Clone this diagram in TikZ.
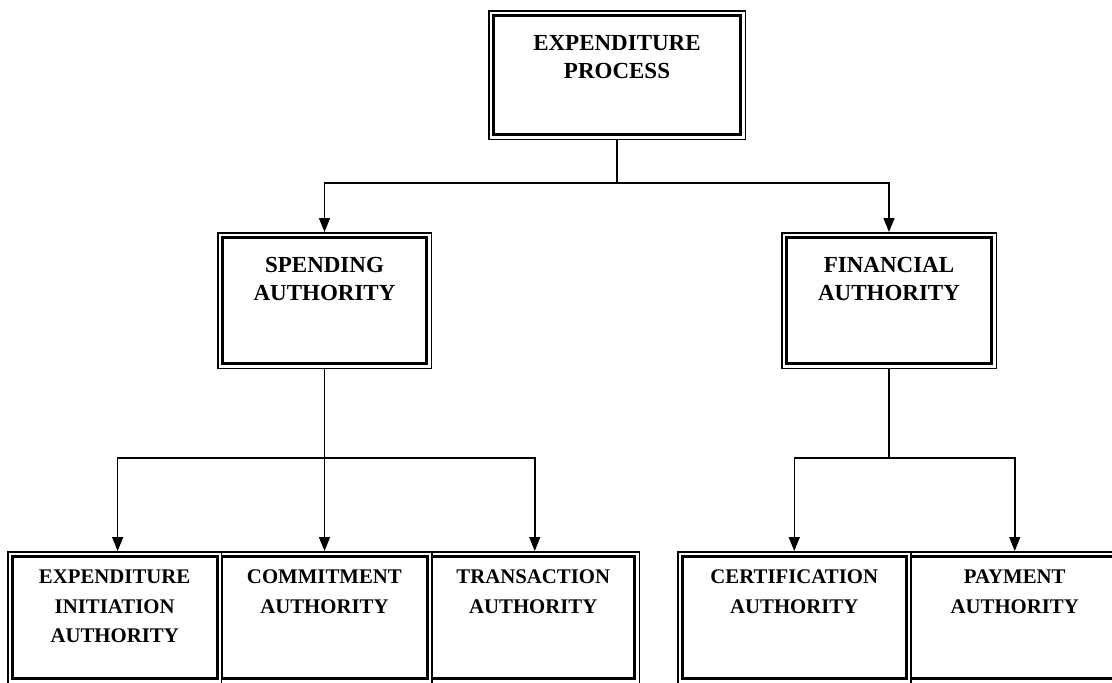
\documentclass[tikz,border=0pt]{standalone}
\usepackage{fontspec}
\setmainfont{Liberation Serif}
\usetikzlibrary{positioning,arrows.meta}
\tikzset{
  dbox/.style={draw, fill=white, line width=1.5pt, inner sep=0pt,
    path picture={\draw[line width=2.8pt]
      ([shift={(4.45pt,-4.45pt)}]path picture bounding box.north west) rectangle
      ([shift={(-4.45pt,4.45pt)}]path picture bounding box.south east);}},
  uptext/.style={inner sep=0pt, align=center, font=\fontsize{23}{28.5}\selectfont\bfseries},
  lowtext/.style={inner sep=0pt, align=center, font=\fontsize{20.8}{29.5}\selectfont\bfseries},
  link/.style={line width=1.5pt},
  arr/.style={link, -{Triangle[width=11pt,length=14pt]}}
}

\begin{document}
\begin{tikzpicture}[x=1pt,y=-1pt]
			\useasboundingbox (0,0) rectangle (1112,683);
			\clip (0,0) rectangle (1112,683);
			% top level
			\node[dbox, minimum width=256.5pt, minimum height=128.5pt] (ep) at (617,75) {};
			\node[uptext, below=25pt of ep.north] (ep-t) {EXPENDITURE\\PROCESS};
			% second level
			\node[dbox, minimum width=213.5pt, minimum height=135.5pt] (sa) at (324.5,300.5) {};
			\node[uptext, below=25pt of sa.north] (sa-t) {SPENDING\\AUTHORITY};
			\node[dbox, minimum width=214.5pt, minimum height=135.5pt] (fa) at (889,300.5) {};
			\node[uptext, below=25pt of fa.north] (fa-t) {FINANCIAL\\AUTHORITY};
			% bottom row, right to left so that the boxes overlap
			\begin{scope}[every node/.append style={minimum height=131.5pt}]
				\node[dbox, minimum width=217pt] (pa) at (1014.75,617.5) {};
				\node[dbox, minimum width=233pt] (cfa) at (794.25,617.5) {};
				\node[dbox, minimum width=212pt] (ta) at (533.25,617.5) {};
				\node[dbox, minimum width=214.7pt] (ca) at (324.4,617.5) {};
				\node[dbox, minimum width=213.8pt] (eia) at (114.65,617.5) {};
			\end{scope}
			\node[lowtext, below=19pt of eia.north] (eia-t) {EXPENDITURE\\INITIATION\\AUTHORITY};
			\node[lowtext, below=19pt of ca.north] (ca-t) {COMMITMENT\\AUTHORITY};
			\node[lowtext, below=19pt of ta.north] (ta-t) {TRANSACTION\\AUTHORITY};
			\node[lowtext, below=19pt of cfa.north] (cfa-t) {CERTIFICATION\\AUTHORITY};
			\node[lowtext, below=19pt of pa.north] (pa-t) {PAYMENT\\AUTHORITY};
			% connectors
			\coordinate (tj) at (617,183);
			\coordinate (sj) at (324.5,458);
			\coordinate (fj) at (889,458);
			\draw[link] (ep.south) -- (tj);
			\draw[arr] (tj) -| (sa.north);
			\draw[arr] (tj) -| (fa.north);
			\draw[arr] (sa.south) -- (sa.south |- ca.north);
			\draw[arr] (sj) -| ([xshift=3pt]eia.north);
			\draw[arr] (sj) -| ([xshift=1.5pt]ta.north);
			\draw[link] (fa.south) -- (fj);
			\draw[arr] (fj) -| (cfa.north);
			\draw[arr] (fj) -| (pa.north);
		\end{tikzpicture}
\end{document}
